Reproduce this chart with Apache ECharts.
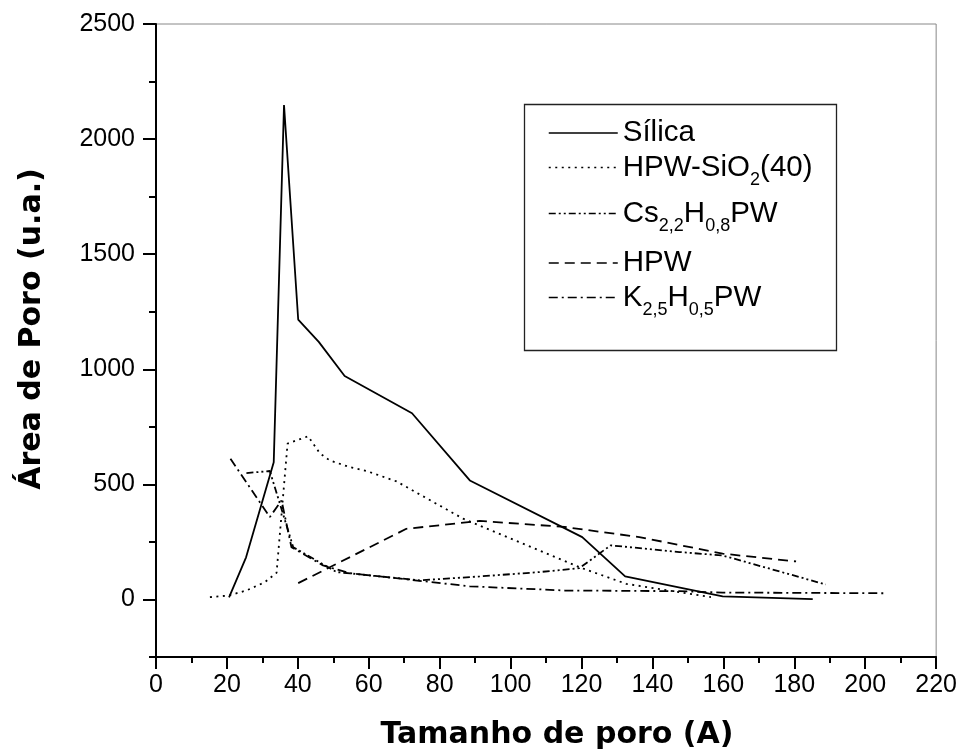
<!DOCTYPE html>
<html>
<head>
<meta charset="utf-8">
<script src="https://cdn.jsdelivr.net/npm/echarts@6/dist/echarts.min.js"></script>
<style>
  html, body { margin: 0; padding: 0; background: #fff; }
  #chart { width: 960px; height: 753px; }
</style>
</head>
<body>
<div id="chart"></div>
<script>
// Pore-size distributions (pore size in Å vs pore area, a.u.)
const silicaX = [20.6, 25.4, 33.2, 36.1, 40.1, 45.9, 53.2, 72.2, 88.5, 120.2, 132.3, 159.8, 185.2];
const silicaY = [9, 183, 596, 2148, 1216, 1119, 971, 809, 517, 271, 100, 13, 1];

const hpwSiO2X = [15.2, 20.4, 25.5, 30.7, 34.0, 37.1, 42.9, 46.2, 49.0, 54.6, 59.4, 67.8, 86.6, 119.4, 132.6, 156.5];
const hpwSiO2Y = [10, 17, 39, 75, 116, 677, 709, 635, 604, 575, 558, 513, 351, 140, 68, 10];

const csX = [25.5, 32.1, 38.7, 50.9, 63.1, 74.4, 91.3, 108.2, 119.4, 128.2, 147.6, 159.8, 188.9];
const csY = [549, 558, 227, 119, 100, 83, 100, 119, 136, 235, 206, 191, 65];

const hpwX = [40.1, 70.6, 91.3, 115.2, 136.3, 159.8, 180.5];
const hpwY = [71, 307, 341, 315, 271, 199, 165];

const kX = [21.0, 32.1, 35.4, 38.2, 47.1, 54.6, 63.1, 72.0, 88.5, 115.2, 147.6, 159.8, 205.4];
const kY = [611, 358, 430, 227, 148, 114, 100, 85, 57, 39, 36, 30, 27];

const seriesNames = ['Sílica', 'HPW-SiO2(40)', 'Cs2,2H0,8PW', 'HPW', 'K2,5H0,5PW'];
const legendLabels = ['Sílica', 'HPW-SiO{s|2}(40)', 'Cs{s|2,2}H{s|0,8}PW', 'HPW', 'K{s|2,5}H{s|0,5}PW'];

const yMajorTicks = [0, 500, 1000, 1500, 2000, 2500];
const yMinorTicks = [-250, 250, 750, 1250, 1750, 2250];

const xTitle = 'Tamanho de poro (A)';
const yTitle = 'Área de Poro (u.a.)';

function pairs(xs, ys) { return xs.map((x, i) => [x, ys[i]]); }

const lineDefs = [
  { x: silicaX, y: silicaY, dash: 'solid' },
  { x: hpwSiO2X, y: hpwSiO2Y, dash: [2, 4.5] },
  { x: csX, y: csY, dash: [7, 3, 2, 3, 2, 3] },
  { x: hpwX, y: hpwY, dash: [10, 6] },
  { x: kX, y: kY, dash: [9, 4, 2, 4] }
];

const series = lineDefs.map((d, i) => ({
  name: seriesNames[i],
  type: 'line',
  symbol: 'none',
  data: pairs(d.x, d.y),
  lineStyle: { color: '#000', width: 1.8, type: d.dash },
  itemStyle: { color: '#000' },
  animation: false
}));

// legend rows: each entry laid out on its own row inside the box
const rowCenters = [131, 168, 214, 261, 298];
const hasSub = legendLabels.map(s => s.indexOf('{s|') >= 0);
const legends = seriesNames.map((n, i) => {
  const top = hasSub[i] ? rowCenters[i] - 27.5 + 5.5 : rowCenters[i] - 15 + 2;
  return {
    data: [n],
    orient: 'vertical',
    left: 548,
    top: top,
    padding: 0,
    itemGap: 0,
    itemWidth: 69,
    itemHeight: 10,
    selectedMode: false,
    itemStyle: { color: 'rgba(0,0,0,0)', borderWidth: 0 },
    lineStyle: { color: '#000', width: 1.5 },
    formatter: () => legendLabels[i],
    textStyle: {
      fontFamily: 'Liberation Sans',
      fontSize: 29.5,
      lineHeight: 30,
      color: '#000',
      rich: {
        s: { fontFamily: 'Liberation Sans', fontSize: 18, lineHeight: 30, padding: [25, 0, 0, 0], color: '#000' }
      }
    }
  };
});

const axisFont = { fontFamily: 'Liberation Sans', fontSize: 25, color: '#000' };
const plainNumber = v => String(v);

const option = {
  backgroundColor: '#fff',
  animation: false,
  grid: { left: 156, right: 23, top: 24, bottom: 96, show: true, borderColor: '#888', borderWidth: 1 },
  xAxis: {
    type: 'value',
    min: 0, max: 220, interval: 20,
    axisLine: { show: true, onZero: false, lineStyle: { color: '#000', width: 2 } },
    axisTick: { show: true, length: 12, lineStyle: { color: '#000', width: 2 } },
    minorTick: { show: true, splitNumber: 2, length: 6, lineStyle: { color: '#000', width: 2 } },
    splitLine: { show: false },
    minorSplitLine: { show: false },
    axisLabel: Object.assign({ margin: 16, formatter: plainNumber }, axisFont)
  },
  yAxis: [
    {
      type: 'value',
      min: -250, max: 2500, interval: 250,
      axisLine: { show: true, onZero: false, lineStyle: { color: '#000', width: 2 } },
      axisTick: { show: true, length: 13, customValues: yMajorTicks, lineStyle: { color: '#000', width: 2 } },
      splitLine: { show: false },
      axisLabel: Object.assign({ margin: 21, customValues: yMajorTicks, formatter: plainNumber }, axisFont)
    },
    {
      type: 'value',
      min: -250, max: 2500, interval: 250,
      position: 'left',
      axisLine: { show: false },
      axisTick: { show: true, length: 7, customValues: yMinorTicks, lineStyle: { color: '#000', width: 2 } },
      splitLine: { show: false },
      axisLabel: { show: false }
    }
  ],
  legend: legends,
  series: series,
  graphic: [
    {
      type: 'rect',
      left: 522, top: 102,
      shape: { width: 312, height: 246 },
      style: { fill: 'none', stroke: '#222', lineWidth: 1.3 },
      z: 1
    },
    {
      type: 'text',
      x: 557, y: 735,
      style: { text: xTitle, font: 'bold 30px "DejaVu Sans"', fill: '#000', textAlign: 'center', textVerticalAlign: 'middle' }
    },
    {
      type: 'text',
      x: 32, y: 329,
      rotation: Math.PI / 2,
      style: { text: yTitle, font: 'bold 30px "DejaVu Sans"', fill: '#000', textAlign: 'center', textVerticalAlign: 'middle' }
    }
  ]
};

const chart = echarts.init(document.getElementById('chart'), null, { renderer: 'canvas' });
chart.setOption(option);
</script>
</body>
</html>
